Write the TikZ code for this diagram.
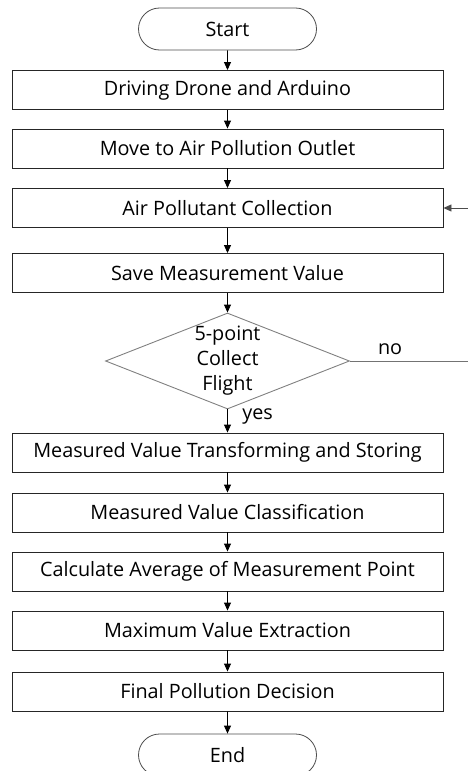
\documentclass[tikz,border=0pt]{standalone}
\usepackage{fontspec}
\setmainfont{Open Sans}
\usetikzlibrary{shapes.geometric,shapes.misc,arrows.meta}
\usetikzlibrary{positioning}

\begin{document}
\begin{tikzpicture}[x=1pt,y=-1pt,
	font=\fontsize{19.8}{25}\selectfont,
	stepbox/.style={draw=black!85,line width=0.9pt,minimum width=431pt,minimum height=39pt,inner sep=0pt},
	terminal/.style={draw=black!70,line width=0.8pt,rounded rectangle,minimum width=178pt,minimum height=42pt,inner sep=0pt},
	decision/.style={draw=black!50,line width=0.9pt,diamond,aspect=2.5,inner sep=0pt,minimum width=244pt,minimum height=96pt,align=center},
	flow/.style={line width=0.9pt,-{Triangle[length=8pt,width=7pt]}},
	loop/.style={draw=black!55,line width=0.9pt}]
	\useasboundingbox (0,0) rectangle (468,771);
	\clip (0,0) rectangle (468,771);

		\node [terminal] (Start) at (227.5,29) {Start};
		\node [stepbox] (B1) at (227.5,90) {Driving Drone and Arduino};
		\node [stepbox] (B2) at (227.5,148.5) {Move to Air Pollution Outlet};
		\node [stepbox] (B3) at (227.5,208) {Air Pollutant Collection};
		\node [stepbox] (B4) at (227.5,273) {Save Measurement Value};
		\node [decision] (D1) at (227.5,361) {5-point\\Collect\\Flight};
		\node [stepbox] (B5) at (227.5,452.5) {Measured Value Transforming and Storing};
		\node [stepbox] (B6) at (227.5,512.5) {Measured Value Classification};
		\node [stepbox] (B7) at (227.5,571.5) {Calculate Average of Measurement Point};
		\node [stepbox] (B8) at (227.5,630.5) {Maximum Value Extraction};
		\node [stepbox] (B9) at (227.5,691.5) {Final Pollution Decision};
		\node [terminal] (End) at (227.5,755) {End};

		\draw [flow] (Start) -- (B1);
		\draw [flow] (B1) -- (B2);
		\draw [flow] (B2) -- (B3);
		\draw [flow] (B3) -- (B4);
		\draw [flow] (B4) -- (D1);
		\draw [flow] (D1) -- (B5) node [pos=0.3,right=11pt] {yes};
		\draw [flow] (B5) -- (B6);
		\draw [flow] (B6) -- (B7);
		\draw [flow] (B7) -- (B8);
		\draw [flow] (B8) -- (B9);
		\draw [flow] (B9) -- (End);

		% loop back, cut at the right edge
		\coordinate (noend) at (468,361);
		\coordinate (backin) at (468,208);
		\draw [loop] (D1.east) -- (noend) node [pos=0.34,above=3pt,black] {no};
		\draw [flow,draw=black!70] (backin) -- (B3.east);
	\end{tikzpicture}
\end{document}
